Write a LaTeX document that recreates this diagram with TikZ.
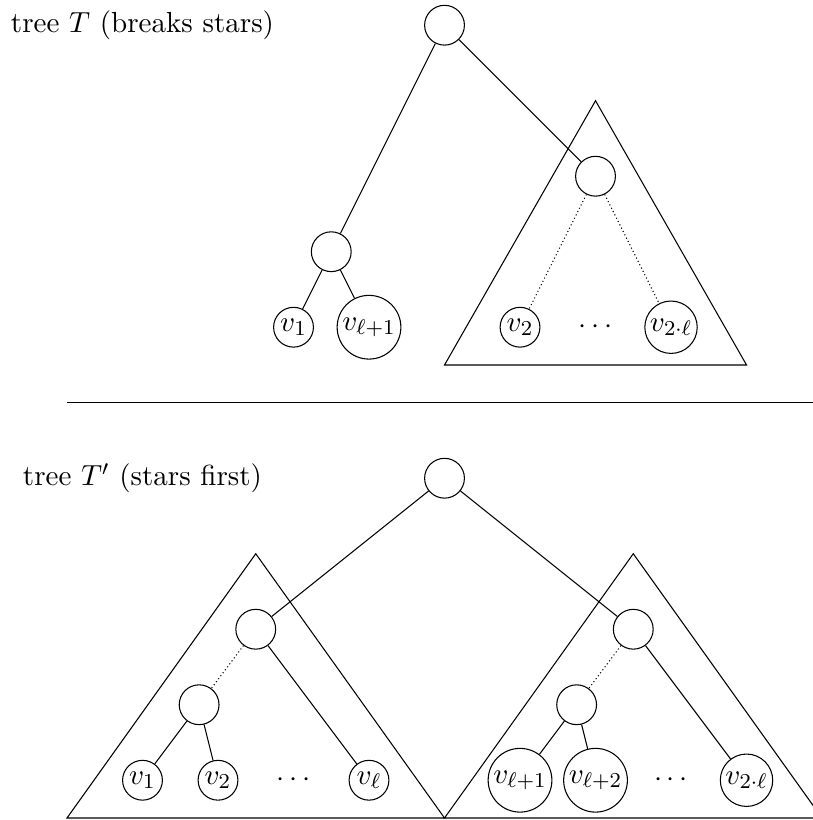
\documentclass[tikz,border=0pt,11pt]{standalone}
\begin{document}
\begin{tikzpicture}[vtx/.style={circle, draw, inner sep=1pt, minimum size=15pt}]

\useasboundingbox (0.1126,-0.0265) rectangle (10.868,10.834);

% tree T ---
\node (labT) at (2, 10.5) {tree $T$ (breaks stars)};

\draw (8, 9.5) -- (6, 6) -- (10, 6) -- cycle;

\node [vtx] (rT) at (6, 10.5) {};
\node [vtx] (aT) at (4.5, 7.5) {};
\node [vtx] (bT) at (8, 8.5) {};
\node [vtx] (v1T) at (4, 6.5) {$v_1$};
\node [vtx] (vl1T) at (5, 6.5) {$v_{\ell+1}$};
\node [vtx] (v2T) at (7, 6.5) {$v_2$};
\node (dotsT) at (8, 6.5) {$\cdots$};
\node [vtx] (v2lT) at (9, 6.5) {$v_{2\cdot\ell}$};

\draw (rT) -- (aT);
\draw (rT) -- (bT);
\draw (aT) -- (v1T);
\draw (aT) -- (vl1T);
\draw [densely dotted] (bT) -- (v2T);
\draw [densely dotted] (bT) -- (v2lT);

\draw (1, 5.5) -- (11, 5.5);

% tree T' ---
\node (labTp) at (2, 4.5) {tree $T'$ (stars first)};

\draw (3.5, 3.5) -- (1, 0) -- (6, 0) -- cycle;
\draw (8.5, 3.5) -- (6, 0) -- (11, 0) -- cycle;

\node [vtx] (rTp) at (6, 4.5) {};
\node [vtx] (aTp) at (3.5, 2.5) {};
\node [vtx] (cTp) at (2.75, 1.5) {};
\node [vtx] (bTp) at (8.5, 2.5) {};
\node [vtx] (dTp) at (7.75, 1.5) {};

\node [vtx] (v1Tp) at (2, .5) {$v_1$};
\node [vtx] (v2Tp) at (3, .5) {$v_2$};
\node (dotsA) at (4, .5) {$\cdots$};
\node [vtx] (vlTp) at (5, .5) {$v_\ell$};

\node [vtx] (vl1Tp) at (7, .5) {$v_{\ell+1}$};
\node [vtx] (vl2Tp) at (8, .5) {$v_{\ell+2}$};
\node (dotsB) at (9, .5) {$\cdots$};
\node [vtx] (v2lTp) at (10, .5) {$v_{2\cdot\ell}$};

\draw (rTp) -- (aTp);
\draw (rTp) -- (bTp);
\draw [densely dotted] (aTp) -- (cTp);
\draw (cTp) -- (v1Tp);
\draw (cTp) -- (v2Tp);
\draw (aTp) -- (vlTp);
\draw [densely dotted] (bTp) -- (dTp);
\draw (dTp) -- (vl1Tp);
\draw (dTp) -- (vl2Tp);
\draw (bTp) -- (v2lTp);

\end{tikzpicture}
\end{document}
